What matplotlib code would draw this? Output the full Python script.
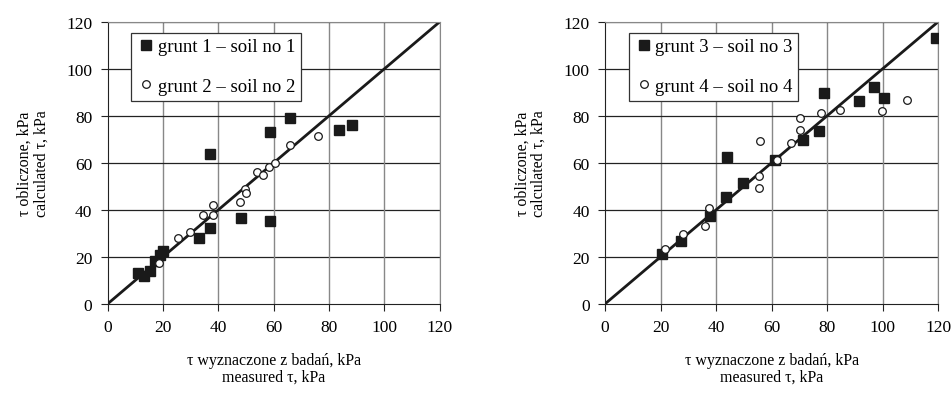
import matplotlib.pyplot as plt
import numpy as np

plt.rcParams['font.family'] = ['Liberation Serif', 'DejaVu Serif']

# soil 1 (squares) and soil 2 (circles) - left panel
s1_x = [11, 13, 15.5, 17.3, 19, 20.1, 33.2, 36.9, 36.9, 48.1, 58.8, 58.5, 65.8, 83.5, 88.2]
s1_y = [13, 12, 13.9, 18.4, 21, 22.4, 27.9, 32.2, 63.7, 36.4, 35.1, 73.2, 78.9, 74.1, 76.2]
s2_x = [18.4, 25.5, 29.7, 34.4, 37.9, 38.2, 47.8, 49.7, 50.1, 53.8, 56.0, 58.3, 60.5, 65.9, 76.0]
s2_y = [17.3, 28.0, 30.7, 38.0, 38.0, 42.1, 43.2, 48.9, 47.2, 56.0, 55.0, 58.1, 59.9, 67.6, 71.3]

# soil 3 (squares) and soil 4 (circles) - right panel
s3_x = [20.4, 27.2, 37.8, 43.6, 44.0, 49.6, 61.2, 71.2, 77.2, 78.8, 91.3, 96.9, 100.4, 119.2]
s3_y = [21.2, 26.6, 37.5, 45.3, 62.3, 51.4, 61.3, 69.7, 73.7, 89.5, 86.1, 92.1, 87.5, 112.9]
s4_x = [21.7, 28.0, 35.9, 37.6, 55.6, 55.4, 56.0, 61.8, 67.0, 70.4, 70.4, 77.9, 84.6, 99.7, 108.8]
s4_y = [23.4, 29.6, 33.3, 40.8, 54.5, 49.3, 69.1, 61.3, 68.4, 74.1, 79.2, 81.0, 82.6, 82.0, 86.8]

ticks = [0, 20, 40, 60, 80, 100, 120]

fig = plt.figure(figsize=(9.52, 4.06), dpi=100)
ax1 = fig.add_axes([0.113, 0.249, 0.349, 0.695])
ax2 = fig.add_axes([0.6355, 0.249, 0.350, 0.695])

panels = [(ax1, s1_x, s1_y, s2_x, s2_y, 'grunt 1 – soil no 1', 'grunt 2 – soil no 2'),
          (ax2, s3_x, s3_y, s4_x, s4_y, 'grunt 3 – soil no 3', 'grunt 4 – soil no 4')]

for ax, xa, ya, xb, yb, la, lb in panels:
    ax.set_xlim(0, 120)
    ax.set_ylim(0, 120)
    ax.set_xticks(ticks)
    ax.set_yticks(ticks)
    # grid: vertical grey, horizontal dark
    for t in ticks[1:]:
        ax.axvline(t, color='#888888', lw=1, zorder=0)
        ax.axhline(t, color='#222222', lw=0.9, zorder=0)
    ax.plot([0, 120], [0, 120], color='#1a1a1a', lw=2, zorder=2)
    ax.plot(xa, ya, 's', color='#1a1a1a', ms=7, label=la, zorder=3)
    ax.plot(xb, yb, 'o', mfc='white', mec='#1a1a1a', mew=0.9, ms=5.5, label=lb, zorder=4)
    for sp in ['top', 'right']:
        ax.spines[sp].set_color('#888888')
    ax.spines['left'].set_color('#222222')
    ax.spines['bottom'].set_color('#222222')
    ax.tick_params(labelsize=12.5, length=5, direction='out', color='#222222', pad=6)
    leg = ax.legend(loc='upper left', bbox_to_anchor=(0.06, 0.975), fontsize=13.5,
                    frameon=True, fancybox=False, edgecolor='#333333', framealpha=1,
                    handletextpad=0.1, handlelength=1.0, labelspacing=1.2,
                    borderpad=0.3, borderaxespad=0.2)
    leg.get_frame().set_linewidth(0.9)
    ax.set_ylabel('τ obliczone, kPa\ncalculated τ, kPa', fontsize=11.5, labelpad=12,
                  linespacing=1.05)
    ax.set_xlabel('τ wyznaczone z badań, kPa\nmeasured τ, kPa', fontsize=11.5, labelpad=12,
                  linespacing=1.1)

plt.savefig('out.png', dpi=100)
